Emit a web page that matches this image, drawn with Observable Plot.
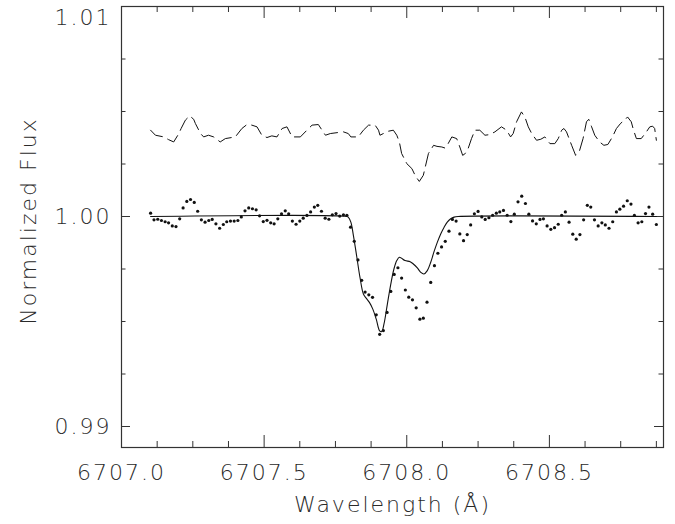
<!DOCTYPE html>
<html>
<head>
<meta charset="utf-8">
<script src="https://cdn.jsdelivr.net/npm/d3@7"></script>
<script src="https://cdn.jsdelivr.net/npm/@observablehq/plot@0.6"></script>
<style>
  html, body { margin: 0; padding: 0; background: #fff; }
  #chart svg { display: block; }
</style>
</head>
<body>
<div id="chart"></div>
<script>
// Observed spectrum (dots)
const obsWave = [
  6707.102, 6707.114, 6707.127, 6707.140, 6707.153, 6707.165, 6707.178, 6707.191, 6707.204, 6707.216,
  6707.229, 6707.242, 6707.255, 6707.267, 6707.280, 6707.293, 6707.306, 6707.318, 6707.331, 6707.344,
  6707.357, 6707.369, 6707.382, 6707.395, 6707.408, 6707.420, 6707.433, 6707.446, 6707.459, 6707.472,
  6707.484, 6707.497, 6707.510, 6707.523, 6707.535, 6707.548, 6707.561, 6707.574, 6707.586, 6707.599,
  6707.612, 6707.625, 6707.637, 6707.650, 6707.663, 6707.676, 6707.688, 6707.701, 6707.714, 6707.727,
  6707.739, 6707.752, 6707.765, 6707.778, 6707.790, 6707.803, 6707.816, 6707.829, 6707.842, 6707.854,
  6707.867, 6707.880, 6707.893, 6707.905, 6707.918, 6707.931, 6707.944, 6707.956, 6707.969, 6707.982,
  6707.995, 6708.007, 6708.020, 6708.033, 6708.046, 6708.058, 6708.071, 6708.084, 6708.097, 6708.109,
  6708.122, 6708.135, 6708.148, 6708.160, 6708.173, 6708.186, 6708.199, 6708.212, 6708.224, 6708.237,
  6708.250, 6708.263, 6708.275, 6708.288, 6708.301, 6708.314, 6708.326, 6708.339, 6708.352, 6708.365,
  6708.377, 6708.390, 6708.403, 6708.416, 6708.428, 6708.441, 6708.454, 6708.467, 6708.479, 6708.492,
  6708.505, 6708.518, 6708.531, 6708.543, 6708.556, 6708.569, 6708.582, 6708.594, 6708.607, 6708.620,
  6708.633, 6708.645, 6708.658, 6708.671, 6708.684, 6708.696, 6708.709, 6708.722, 6708.735, 6708.747,
  6708.760, 6708.773, 6708.786, 6708.798, 6708.811, 6708.824, 6708.837, 6708.849, 6708.862, 6708.875
];
const obsFlux = [
  1.00016, 0.99984, 0.99987, 0.99981, 0.99975, 0.99970, 0.99955, 0.99952, 0.99989, 1.00041,
  1.00072, 1.00081, 1.00067, 1.00025, 0.99984, 0.99973, 0.99981, 0.99986, 0.99965, 0.99944,
  0.99962, 0.99975, 0.99978, 0.99978, 0.99981, 0.99998, 1.00027, 1.00041, 1.00037, 1.00032,
  1.00003, 0.99976, 0.99982, 0.99970, 0.99965, 0.99989, 1.00013, 1.00027, 1.00013, 0.99978,
  0.99963, 0.99978, 0.99992, 1.00005, 1.00022, 1.00045, 1.00053, 1.00025, 0.99992, 0.99987,
  1.00008, 1.00014, 1.00002, 1.00008, 1.00006, 0.99949, 0.99882, 0.99793, 0.99696, 0.99640,
  0.99627, 0.99615, 0.99532, 0.99439, 0.99457, 0.99543, 0.99643, 0.99724, 0.99756, 0.99707,
  0.99650, 0.99616, 0.99603, 0.99565, 0.99511, 0.99516, 0.99592, 0.99686, 0.99766, 0.99825,
  0.99855, 0.99882, 0.99930, 0.99986, 0.99978, 0.99917, 0.99885, 0.99914, 0.99960, 1.00013,
  1.00024, 0.99998, 0.99986, 0.99994, 1.00006, 1.00016, 1.00022, 1.00029, 1.00006, 0.99976,
  1.00011, 1.00070, 1.00097, 1.00062, 1.00011, 0.99979, 0.99965, 0.99986, 0.99989, 0.99955,
  0.99939, 0.99947, 0.99963, 1.00006, 1.00022, 0.99973, 0.99916, 0.99892, 0.99914, 0.99984,
  1.00053, 1.00045, 0.99984, 0.99955, 0.99970, 0.99960, 0.99944, 0.99975, 1.00022, 1.00035,
  1.00049, 1.00075, 1.00059, 1.00005, 0.99970, 0.99975, 1.00014, 1.00045, 1.00011, 0.99962
];

// Synthetic model (solid line)
const modelWave = [
  6707.102, 6707.790, 6707.795, 6707.804, 6707.813, 6707.825, 6707.836, 6707.848, 6707.858, 6707.869,
  6707.881, 6707.893, 6707.905, 6707.912, 6707.920, 6707.932, 6707.944, 6707.955, 6707.965, 6707.974,
  6707.982, 6707.994, 6708.012, 6708.023, 6708.037, 6708.049, 6708.060, 6708.072, 6708.084, 6708.095,
  6708.107, 6708.119, 6708.131, 6708.142, 6708.154, 6708.166, 6708.180, 6708.875
];
const modelFlux = [
  1.00000, 1.00000, 0.99997, 0.99973, 0.99909, 0.99806, 0.99710, 0.99631, 0.99611, 0.99591,
  0.99559, 0.99511, 0.99455, 0.99452, 0.99487, 0.99583, 0.99678, 0.99750, 0.99790, 0.99806,
  0.99801, 0.99790, 0.99785, 0.99774, 0.99755, 0.99734, 0.99726, 0.99742, 0.99782, 0.99830,
  0.99877, 0.99917, 0.99949, 0.99973, 0.99989, 0.99997, 1.00000, 1.00000
];

// Offset comparison spectrum (dashed line)
const dashWave = [
  6707.102, 6707.119, 6707.148, 6707.165, 6707.183, 6707.201, 6707.209, 6707.224, 6707.239, 6707.253,
  6707.259, 6707.277, 6707.288, 6707.305, 6707.323, 6707.346, 6707.364, 6707.399, 6707.422, 6707.440,
  6707.457, 6707.475, 6707.492, 6707.510, 6707.527, 6707.545, 6707.563, 6707.580, 6707.598, 6707.627,
  6707.650, 6707.668, 6707.690, 6707.703, 6707.715, 6707.732, 6707.760, 6707.778, 6707.795, 6707.804,
  6707.830, 6707.848, 6707.866, 6707.889, 6707.901, 6707.906, 6707.918, 6707.935, 6707.953, 6707.965,
  6707.974, 6707.982, 6708.000, 6708.018, 6708.031, 6708.044, 6708.058, 6708.076, 6708.094, 6708.106,
  6708.123, 6708.134, 6708.145, 6708.158, 6708.175, 6708.186, 6708.196, 6708.206, 6708.215, 6708.227,
  6708.239, 6708.256, 6708.274, 6708.291, 6708.309, 6708.332, 6708.350, 6708.364, 6708.373, 6708.385,
  6708.402, 6708.414, 6708.426, 6708.438, 6708.455, 6708.470, 6708.484, 6708.502, 6708.519, 6708.531,
  6708.543, 6708.551, 6708.560, 6708.578, 6708.592, 6708.606, 6708.618, 6708.630, 6708.638, 6708.648,
  6708.659, 6708.676, 6708.691, 6708.705, 6708.721, 6708.735, 6708.750, 6708.764, 6708.774, 6708.787,
  6708.795, 6708.805, 6708.822, 6708.840, 6708.852, 6708.862, 6708.869, 6708.875
];
const dashFlux = [
  1.00411, 1.00387, 1.00379, 1.00366, 1.00355, 1.00395, 1.00419, 1.00459, 1.00479, 1.00463,
  1.00443, 1.00395, 1.00379, 1.00387, 1.00379, 1.00355, 1.00371, 1.00379, 1.00419, 1.00438,
  1.00435, 1.00427, 1.00387, 1.00376, 1.00384, 1.00379, 1.00419, 1.00427, 1.00379, 1.00379,
  1.00411, 1.00435, 1.00438, 1.00411, 1.00387, 1.00395, 1.00400, 1.00403, 1.00395, 1.00379,
  1.00379, 1.00411, 1.00435, 1.00435, 1.00411, 1.00387, 1.00395, 1.00406, 1.00411, 1.00387,
  1.00355, 1.00300, 1.00252, 1.00228, 1.00191, 1.00167, 1.00196, 1.00300, 1.00339, 1.00334,
  1.00331, 1.00326, 1.00347, 1.00379, 1.00371, 1.00331, 1.00291, 1.00301, 1.00323, 1.00371,
  1.00411, 1.00411, 1.00387, 1.00390, 1.00403, 1.00427, 1.00411, 1.00379, 1.00395, 1.00451,
  1.00498, 1.00474, 1.00427, 1.00395, 1.00363, 1.00368, 1.00379, 1.00347, 1.00347, 1.00371,
  1.00411, 1.00419, 1.00403, 1.00339, 1.00291, 1.00315, 1.00371, 1.00451, 1.00463, 1.00427,
  1.00387, 1.00355, 1.00339, 1.00343, 1.00379, 1.00419, 1.00444, 1.00459, 1.00474, 1.00451,
  1.00411, 1.00371, 1.00371, 1.00403, 1.00427, 1.00430, 1.00419, 1.00363
];

// Axis ticks
const xMajor = [6707.0, 6707.5, 6708.0, 6708.5];
const xMinor = [6707.125, 6707.25, 6707.375, 6707.625, 6707.75, 6707.875,
                6708.125, 6708.25, 6708.375, 6708.625, 6708.75, 6708.875];
const yMajor = [0.99, 1.00, 1.01];
const yMinor = [0.9925, 0.995, 0.9975, 1.0025, 1.005, 1.0075];
const xDomain = [6707.0, 6708.9];
const yDomain = [0.989, 1.0100];

const obs = obsWave.map((w, i) => ({w, f: obsFlux[i]}));
const model = modelWave.map((w, i) => ({w, f: modelFlux[i]}));
const dash = dashWave.map((w, i) => ({w, f: dashFlux[i]}));

const W = 675, H = 524;
const mL = 121, mR = 12, mT = 6, mB = 77;
const innerW = W - mL - mR;
const innerH = H - mT - mB;
const ink = "#2a2a2a";
const axisInk = "#333";
const fmtY = d3.format(".2f");
const fmtX = d3.format(".1f");

const chart = Plot.plot({
  width: W,
  height: H,
  marginLeft: mL,
  marginRight: mR,
  marginTop: mT,
  marginBottom: mB,
  x: {domain: xDomain, axis: null},
  y: {domain: yDomain, axis: null},
  style: {fontFamily: "'DejaVu Sans ExtraLight', 'DejaVu Sans', sans-serif", fontSize: "22px", fontWeight: 200, color: ink, background: "#fff", letterSpacing: "2px"},
  marks: [
    // inward ticks on all four sides
    Plot.tickX(xMajor, {x: d => d, insetTop: innerH - 12, stroke: axisInk}),
    Plot.tickX(xMinor, {x: d => d, insetTop: innerH - 6, stroke: axisInk}),
    Plot.tickX(xMajor, {x: d => d, insetBottom: innerH - 12, stroke: axisInk}),
    Plot.tickX(xMinor, {x: d => d, insetBottom: innerH - 6, stroke: axisInk}),
    Plot.tickY(yMajor, {y: d => d, insetRight: innerW - 9, stroke: axisInk}),
    Plot.tickY(yMinor, {y: d => d, insetRight: innerW - 4.5, stroke: axisInk}),
    Plot.tickY(yMajor, {y: d => d, insetLeft: innerW - 9, stroke: axisInk}),
    Plot.tickY(yMinor, {y: d => d, insetLeft: innerW - 4.5, stroke: axisInk}),
    Plot.frame({stroke: axisInk, strokeWidth: 1.2}),
    // tick labels
    Plot.text(xMajor, {x: d => d, frameAnchor: "bottom", dy: 32, text: d => fmtX(d), fill: ink, fontSize: 22}),
    Plot.text(yMajor.filter(d => d < 1.005), {y: d => d, frameAnchor: "left", dx: -10, textAnchor: "end", text: d => fmtY(d), fill: ink, fontSize: 22}),
    Plot.text(yMajor.filter(d => d > 1.005), {y: d => d, frameAnchor: "left", dx: -10, dy: 11, textAnchor: "end", text: d => fmtY(d), fill: ink, fontSize: 22}),
    // axis titles
    Plot.text(["Wavelength (Å)"], {frameAnchor: "bottom", dy: 64, textAnchor: "middle", text: d => d, fill: ink, fontSize: 22}),
    Plot.text(["Normalized Flux"], {frameAnchor: "left", dx: -93, dy: -6, rotate: -90, textAnchor: "middle", text: d => d, fill: ink, fontSize: 22, style: {letterSpacing: "3.5px"}}),
    // data
    Plot.line(dash, {x: "w", y: "f", stroke: "#111", strokeWidth: 1, strokeDasharray: "14,6"}),
    Plot.line(model, {x: "w", y: "f", stroke: "#111", strokeWidth: 1.1, curve: "catmull-rom"}),
    Plot.dot(obs, {x: "w", y: "f", r: 1.6, fill: "#111", stroke: "none"})
  ]
});
document.getElementById("chart").appendChild(chart);
</script>
</body>
</html>
